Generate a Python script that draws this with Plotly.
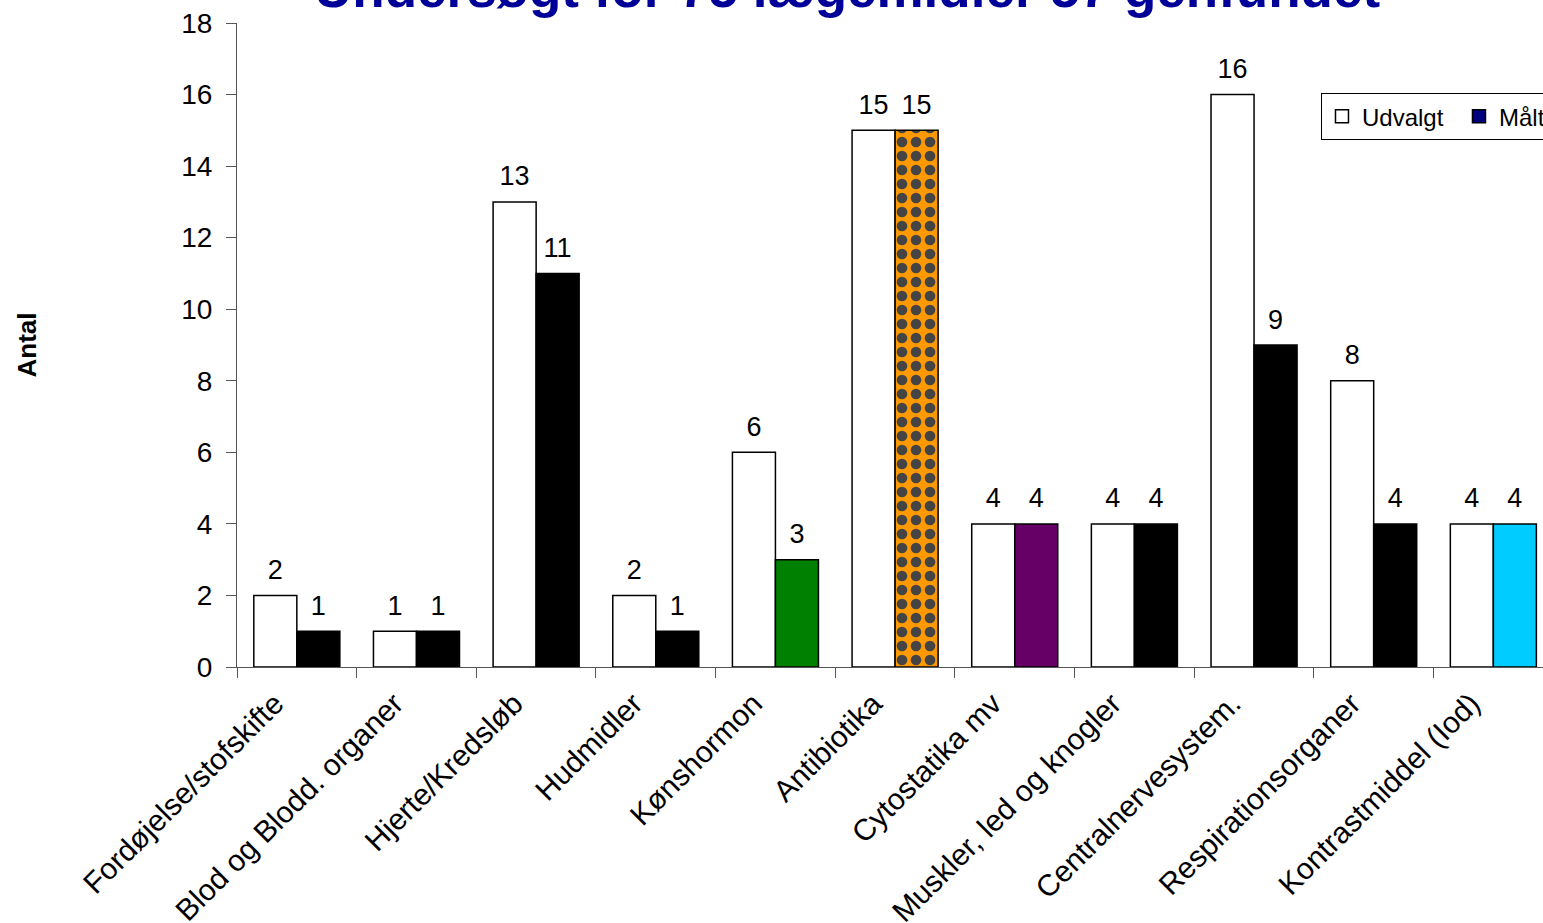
import plotly.graph_objects as go

categories = ["Fordøjelse/stofskifte", "Blod og Blodd. organer", "Hjerte/Kredsløb",
              "Hudmidler", "Kønshormon", "Antibiotika", "Cytostatika mv",
              "Muskler, led og knogler", "Centralnervesystem.", "Respirationsorganer",
              "Kontrastmiddel (Iod)"]
udvalgt = [2, 1, 13, 2, 6, 15, 4, 4, 16, 8, 4]
maalt = [1, 1, 11, 1, 3, 15, 4, 4, 9, 4, 4]
maalt_colors = ["#000000", "#000000", "#000000", "#000000", "#008000", "#FF9900",
                "#660066", "#000000", "#000000", "#000000", "#00CCFF"]
maalt_patterns = ["", "", "", "", "", ".", "", "", "", "", ""]
title_text = "Undersøgt for 75 lægemidler 57 genfundet"

FONT = "Liberation Sans, Arial, sans-serif"
GAP = 0.281

fig = go.Figure()
fig.add_trace(go.Bar(x=categories, y=udvalgt, name="Udvalgt", showlegend=False,
                     marker=dict(color="white", line=dict(color="black", width=1.5)),
                     offsetgroup="u"))
fig.add_trace(go.Bar(x=categories, y=maalt, name="Målt", showlegend=False,
                     marker=dict(color=maalt_colors, line=dict(color="black", width=1.5),
                                 pattern=dict(shape=maalt_patterns, fgcolor="#000080", fgopacity=1,
                                              size=14, solidity=0.45, fillmode="overlay")),
                     offsetgroup="m"))
# value labels
for vals, grp in ((udvalgt, "u"), (maalt, "m")):
    fig.add_trace(go.Scatter(x=categories, y=vals, mode="markers+text", text=[str(v) for v in vals],
                             textposition="top center", offsetgroup=grp, showlegend=False,
                             marker=dict(size=14, color="rgba(0,0,0,0)"),
                             textfont=dict(family=FONT, size=27, color="black"),
                             cliponaxis=False, hoverinfo="skip"))
# legend entries
fig.add_trace(go.Scatter(x=[None], y=[None], mode="markers", name="Udvalgt", xaxis="x2", yaxis="y2",
                         marker=dict(symbol="square", size=13, color="white",
                                     line=dict(color="black", width=1.5))))
fig.add_trace(go.Scatter(x=[None], y=[None], mode="markers", name="Målt", xaxis="x2", yaxis="y2",
                         marker=dict(symbol="square", size=13, color="#000080",
                                     line=dict(color="black", width=1.5))))

fig.update_layout(
    width=1543, height=923,
    margin=dict(l=237, r=0, t=23, b=256, autoexpand=False),
    paper_bgcolor="white", plot_bgcolor="white",
    barmode="group", bargap=GAP, bargroupgap=0,
    scattermode="group", scattergap=GAP,
    font=dict(family=FONT, size=26, color="black"),
    xaxis=dict(type="category", range=[-0.5, 10.415], tickangle=-45, tickson="boundaries",
               ticks="outside", ticklen=10, tickcolor="#555555", showline=True,
               linecolor="#555555", linewidth=1.2, showgrid=False,
               ticklabelshift=-22, ticklabelstandoff=6,
               tickfont=dict(family=FONT, size=30, color="black")),
    yaxis=dict(range=[0, 18], dtick=2, ticks="outside", ticklen=10, tickcolor="#555555",
               showline=True, linecolor="#555555", linewidth=1.2, showgrid=False, zeroline=False,
               ticklabelstandoff=8,
               tickfont=dict(family=FONT, size=28, color="black"),
               title=dict(text="<b>Antal</b>", font=dict(family=FONT, size=26), standoff=137)),
    xaxis2=dict(overlaying="x", visible=False, range=[0, 1]),
    yaxis2=dict(overlaying="y", visible=False, range=[0, 1]),
    legend=dict(orientation="h", x=0.83, xanchor="left", y=0.891, yanchor="top",
                bordercolor="black", borderwidth=1, bgcolor="white", entrywidth=92,
                font=dict(family=FONT, size=24, color="black"), traceorder="normal"),
    showlegend=True,
)
fig.add_annotation(text="<b>" + title_text + "</b>", xref="paper", yref="paper",
                   x=0.467, y=1.005, xanchor="center", yanchor="bottom", showarrow=False,
                   font=dict(family=FONT, size=53, color="#000099"))
fig.write_html("out.html")
